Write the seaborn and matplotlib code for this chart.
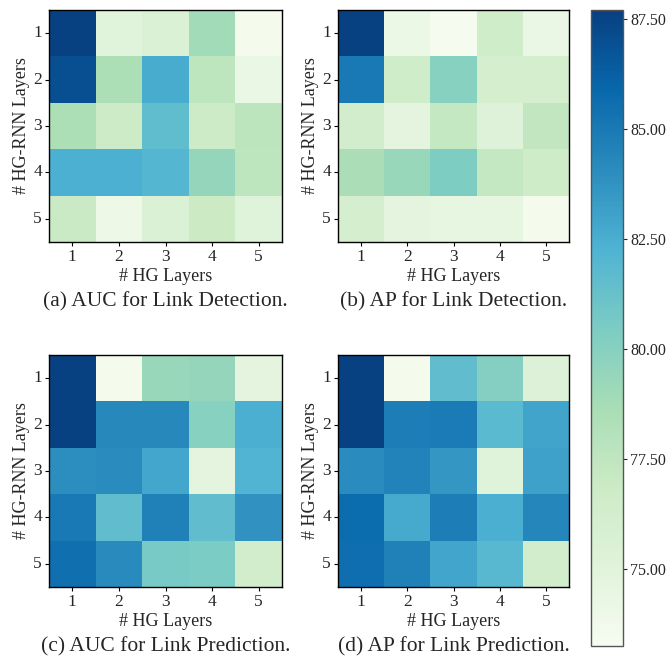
import numpy as np
import pandas as pd
import matplotlib
matplotlib.use("Agg")
import matplotlib.pyplot as plt
import seaborn as sns

sns.set_style("white")
plt.rcParams['font.family'] = ['Liberation Serif', 'DejaVu Serif']
plt.rcParams['mathtext.fontset'] = 'stix'

hg_layers = [1, 2, 3, 4, 5]
rnn_layers = [1, 2, 3, 4, 5]

auc_detection = [
    [87.6, 75.1, 75.6, 78.9, 73.5],
    [87.0, 78.4, 82.6, 77.6, 74.2],
    [78.4, 76.8, 81.6, 76.8, 77.7],
    [82.4, 82.4, 82.0, 79.5, 77.6],
    [77.0, 74.0, 75.6, 76.9, 75.2],
]
ap_detection = [
    [87.6, 74.1, 73.4, 76.5, 74.3],
    [85.0, 76.5, 80.0, 76.1, 76.1],
    [76.4, 74.8, 77.3, 75.3, 77.4],
    [78.5, 79.3, 80.4, 77.3, 76.6],
    [76.1, 74.8, 74.6, 74.6, 73.5],
]
auc_prediction = [
    [87.6, 73.5, 79.3, 79.5, 74.8],
    [87.6, 84.3, 84.3, 80.0, 82.5],
    [84.0, 84.1, 82.8, 74.8, 82.2],
    [85.0, 81.5, 84.6, 81.5, 83.8],
    [85.5, 84.2, 80.6, 80.5, 76.3],
]
ap_prediction = [
    [87.6, 73.5, 81.5, 80.1, 75.4],
    [87.6, 84.8, 84.9, 81.8, 83.0],
    [84.1, 84.5, 83.6, 75.2, 83.1],
    [85.7, 82.7, 84.8, 82.5, 84.4],
    [85.6, 84.6, 82.9, 81.9, 76.3],
]
captions = [
    "(a) AUC for Link Detection.",
    "(b) AP for Link Detection.",
    "(c) AUC for Link Prediction.",
    "(d) AP for Link Prediction.",
]
cbar_ticks = [75.0, 77.5, 80.0, 82.5, 85.0, 87.5]

vmin, vmax = 73.25, 87.7

W, H = 671, 658
fig = plt.figure(figsize=(W / 100, H / 100), dpi=100)

def box(l, t, r, b):
    return [l / W, 1 - b / H, (r - l) / W, (b - t) / H]

boxes = [box(49, 10, 282, 242), box(338, 10, 569, 242),
         box(49, 355, 282, 587), box(338, 355, 569, 587)]
cax = fig.add_axes(box(591, 10, 623, 646))

datas = [auc_detection, ap_detection, auc_prediction, ap_prediction]
cbar = None
for i, (d, bx, cap) in enumerate(zip(datas, boxes, captions)):
    ax = fig.add_axes(bx)
    df = pd.DataFrame(d, index=rnn_layers, columns=hg_layers)
    sns.heatmap(df, ax=ax, cmap="GnBu", vmin=vmin, vmax=vmax,
                cbar=(i == 0), cbar_ax=cax if i == 0 else None,
                cbar_kws={"ticks": cbar_ticks, "format": "%.2f"})
    if i == 0:
        cbar = ax.collections[0].colorbar
    for s in ax.spines.values():
        s.set_visible(True)
        s.set_color("black")
        s.set_linewidth(1.0)
    ax.tick_params(axis="both", which="both", length=3, width=0.8, pad=2,
                   labelsize=12.5, left=True, bottom=True, color="black")
    ax.set_yticklabels(rnn_layers, rotation=0)
    ax.set_xticklabels(hg_layers, rotation=0)
    ax.set_xlabel("# HG Layers", fontsize=13, labelpad=2)
    ax.set_ylabel("# HG-RNN Layers", fontsize=13, labelpad=2.5)
    cx = (bx[0] + bx[2] / 2)
    fig.text(cx, bx[1] - 60 / H, cap, ha="center", va="center", fontsize=15.5)

cax.tick_params(labelsize=11.5, length=3, width=0.8, pad=2)
if cbar is not None:
    cbar.outline.set_visible(True)
    cbar.outline.set_edgecolor("#555555")
    cbar.outline.set_linewidth(1.0)

fig.savefig("out.png", dpi=100)
